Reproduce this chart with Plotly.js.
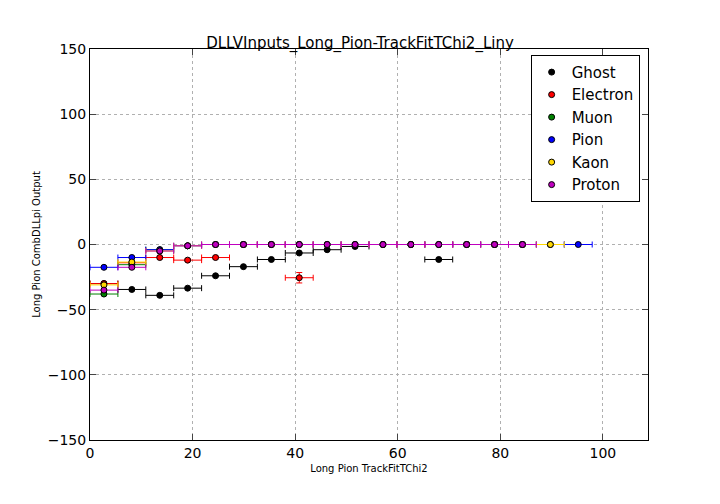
<!DOCTYPE html>
<html><head><script src="https://cdn.plot.ly/plotly-3.0.1.min.js"></script></head>
<body style="margin:0">
<div id="plot" style="width:720px;height:504px"></div>
<script>
const binWidth = 5.44;
const centers = [2.72, 8.16, 13.6, 19.04, 24.48, 29.92, 35.36, 40.8, 46.24, 51.68, 57.12, 62.56, 68.0, 73.44, 78.88, 84.32, 89.76, 95.2];
const ghost = [-30, -34.5, -39, -33.5, -24, -17, -11.5, -6.5, -4, -1.5, 0, 0, -11.5, 0, 0, 0];
const electron = [-30, -14, -10, -12, -10, 0, 0, -25.5];
const electronErr = [1, 1, 1, 1, 1, 1, 1, 4];
const muon = [-38, -15.5, -4];
const pion = [-17.5, -10, -4, -1, 0, 0, 0, 0, 0, 0, 0, 0, 0, 0, 0, 0, 0, 0];
const kaon = [-31, -13.5, -5, -1, 0, 0, 0, 0, 0, 0, 0, 0, 0, 0, 0, 0, 0];
const proton = [-35, -17.5, -5, -1, 0, 0, 0, 0, 0, 0, 0, 0, 0, 0, 0, 0];

function series(name, vals, color, yerr) {
    return {
        x: centers.slice(0, vals.length), y: vals, name: name,
        type: 'scatter', mode: 'markers',
        marker: {color: color, size: 6, line: {color: 'black', width: 1}},
        error_x: {type: 'constant', value: binWidth / 2, color: color, thickness: 1, width: 3},
        error_y: yerr ? {type: 'data', array: yerr, color: color, thickness: 1, width: 3} : {visible: false},
    };
}

const data = [
    series('Ghost', ghost, 'black'),
    series('Electron', electron, 'red', electronErr),
    series('Muon', muon, 'green'),
    series('Pion', pion, 'blue'),
    series('Kaon', kaon, 'gold'),
    series('Proton', proton, 'm' === 'm' ? '#bf00bf' : ''),
];

const layout = {
    width: 720, height: 504,
    margin: {l: 90, r: 72, t: 49, b: 64},
    font: {family: 'DejaVu Sans', color: 'black'},
    title: {text: 'DLLVInputs_Long_Pion-TrackFitTChi2_Liny', font: {size: 15}, y: 0.905, yanchor: 'bottom'},
    paper_bgcolor: 'white', plot_bgcolor: 'white',
    xaxis: {
        range: [0, 108.8], dtick: 20, showline: true, mirror: 'ticks', linecolor: 'black',
        ticks: 'inside', ticklen: 6, gridcolor: '#b0b0b0', griddash: 'dot', zeroline: false,
        tickfont: {size: 14}, title: {text: 'Long Pion TrackFitTChi2', font: {size: 10}, standoff: 5},
    },
    yaxis: {
        range: [-150, 150], dtick: 50, showline: true, mirror: 'ticks', linecolor: 'black',
        ticks: 'inside', ticklen: 6, gridcolor: '#b0b0b0', griddash: 'dot', zeroline: false,
        tickfont: {size: 14}, title: {text: 'Long Pion CombDLLpi Output', font: {size: 10}, standoff: 5},
    },
    legend: {
        x: 0.985, y: 0.985, xanchor: 'right', yanchor: 'top',
        bordercolor: 'black', borderwidth: 1, bgcolor: 'white', font: {size: 15},
    },
};

Plotly.newPlot('plot', data, layout, {displayModeBar: false});
</script>
</body></html>
